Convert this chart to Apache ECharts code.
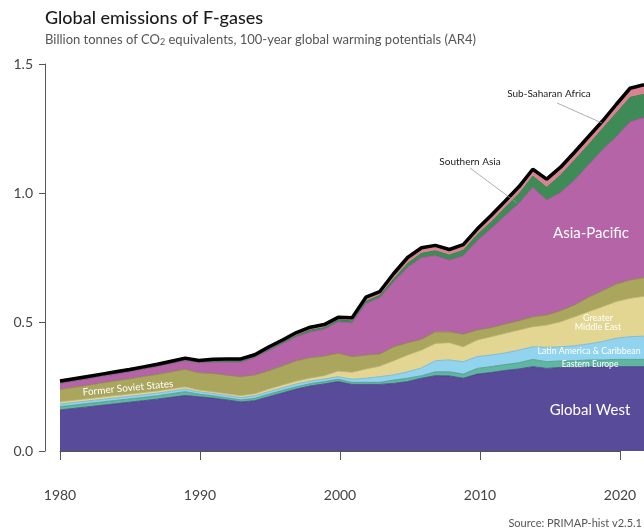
<!DOCTYPE html>
<html>
<head>
<meta charset="utf-8">
<script src="https://cdn.jsdelivr.net/npm/echarts@6/dist/echarts.min.js"></script>
<style>
  html, body { margin: 0; padding: 0; background: #fff; }
  #chart { width: 644px; height: 529px; }
</style>
</head>
<body>
<div id="chart"></div>
<script>
// years on the x axis
var years = ['1980', '1981', '1982', '1983', '1984', '1985', '1986', '1987', '1988', '1989',
  '1990', '1991', '1992', '1993', '1994', '1995', '1996', '1997', '1998', '1999',
  '2000', '2001', '2002', '2003', '2004', '2005', '2006', '2007', '2008', '2009',
  '2010', '2011', '2012', '2013', '2014', '2015', '2016', '2017', '2018', '2019',
  '2020', '2021', '2022'];

// billion tonnes CO2e (stacked bottom -> top)
var globalWest = [0.159, 0.165, 0.171, 0.177, 0.183, 0.189, 0.195, 0.201, 0.208, 0.215,
  0.210, 0.205, 0.198, 0.190, 0.195, 0.210, 0.225, 0.240, 0.252, 0.260,
  0.269, 0.258, 0.258, 0.258, 0.262, 0.269, 0.282, 0.292, 0.291, 0.282,
  0.298, 0.304, 0.312, 0.318, 0.327, 0.320, 0.324, 0.324, 0.326, 0.327,
  0.327, 0.327, 0.327];
var easternEurope = [0.013, 0.013, 0.013, 0.013, 0.013, 0.013, 0.013, 0.013, 0.014, 0.015,
  0.010, 0.009, 0.008, 0.008, 0.009, 0.010, 0.010, 0.009, 0.009, 0.009,
  0.009, 0.008, 0.008, 0.008, 0.013, 0.013, 0.010, 0.015, 0.016, 0.016,
  0.022, 0.023, 0.023, 0.024, 0.028, 0.026, 0.025, 0.026, 0.027, 0.026,
  0.028, 0.028, 0.028];
var latinAmerica = [0.010, 0.010, 0.010, 0.010, 0.010, 0.010, 0.010, 0.010, 0.010, 0.010,
  0.009, 0.009, 0.009, 0.009, 0.010, 0.010, 0.010, 0.011, 0.010, 0.010,
  0.010, 0.012, 0.016, 0.022, 0.020, 0.025, 0.030, 0.043, 0.046, 0.048,
  0.046, 0.045, 0.045, 0.049, 0.049, 0.056, 0.055, 0.058, 0.062, 0.071,
  0.082, 0.088, 0.090];
var middleEast = [0.009, 0.009, 0.009, 0.009, 0.009, 0.009, 0.009, 0.009, 0.009, 0.009,
  0.007, 0.007, 0.007, 0.008, 0.008, 0.010, 0.011, 0.011, 0.012, 0.013,
  0.022, 0.027, 0.036, 0.041, 0.055, 0.065, 0.069, 0.067, 0.067, 0.058,
  0.064, 0.071, 0.076, 0.078, 0.078, 0.086, 0.097, 0.112, 0.125, 0.135,
  0.142, 0.149, 0.155];
var formerSoviet = [0.048, 0.050, 0.052, 0.055, 0.057, 0.059, 0.062, 0.064, 0.066, 0.068,
  0.067, 0.071, 0.072, 0.073, 0.073, 0.071, 0.074, 0.079, 0.079, 0.076,
  0.069, 0.061, 0.054, 0.047, 0.054, 0.048, 0.042, 0.045, 0.042, 0.049,
  0.039, 0.035, 0.036, 0.036, 0.038, 0.039, 0.043, 0.046, 0.056, 0.062,
  0.068, 0.071, 0.072];
var asiaPacific = [0.023, 0.024, 0.025, 0.025, 0.026, 0.027, 0.028, 0.030, 0.032, 0.033,
  0.039, 0.043, 0.050, 0.056, 0.067, 0.078, 0.086, 0.093, 0.100, 0.104,
  0.122, 0.131, 0.200, 0.219, 0.252, 0.292, 0.317, 0.296, 0.278, 0.304,
  0.346, 0.384, 0.420, 0.455, 0.502, 0.446, 0.458, 0.484, 0.513, 0.546,
  0.571, 0.613, 0.621];
var southernAsia = [0.004, 0.004, 0.004, 0.004, 0.004, 0.004, 0.004, 0.004, 0.004, 0.005,
  0.004, 0.006, 0.006, 0.007, 0.006, 0.007, 0.007, 0.008, 0.009, 0.009,
  0.009, 0.010, 0.010, 0.011, 0.014, 0.018, 0.018, 0.020, 0.022, 0.023,
  0.025, 0.028, 0.033, 0.039, 0.046, 0.051, 0.070, 0.080, 0.080, 0.084,
  0.094, 0.097, 0.092];
var subSaharan = [0.005, 0.005, 0.005, 0.005, 0.005, 0.005, 0.005, 0.005, 0.005, 0.005,
  0.005, 0.006, 0.007, 0.006, 0.005, 0.007, 0.007, 0.008, 0.009, 0.009,
  0.008, 0.009, 0.014, 0.012, 0.018, 0.020, 0.020, 0.019, 0.019, 0.020,
  0.020, 0.023, 0.023, 0.025, 0.024, 0.030, 0.028, 0.028, 0.029, 0.027,
  0.031, 0.033, 0.035];

var regions = [
  { name: 'Global West', data: globalWest, fill: '#574b9a', line: '#463b82' },
  { name: 'Eastern Europe', data: easternEurope, fill: '#5fb6a1', line: '#4a9683' },
  { name: 'Latin America & Caribbean', data: latinAmerica, fill: '#92d3ef', line: '#6fb2cf' },
  { name: 'Greater Middle East', data: middleEast, fill: '#e3d692', line: '#b9ad72' },
  { name: 'Former Soviet States', data: formerSoviet, fill: '#aaa65d', line: '#858147' },
  { name: 'Asia-Pacific', data: asiaPacific, fill: '#b565a7', line: '#934e87' },
  { name: 'Southern Asia', data: southernAsia, fill: '#3f8b57', line: '#2f6c43' },
  { name: 'Sub-Saharan Africa', data: subSaharan, fill: '#d8838f', line: '#000' }
];

var FONT = 'Lato, "Noto Sans", sans-serif';

var chart = echarts.init(document.getElementById('chart'));

var series = regions.map(function (r, i) {
  var last = i === regions.length - 1;
  return {
    name: r.name,
    type: 'line',
    stack: 'total',
    xAxisIndex: 0,
    yAxisIndex: 0,
    symbol: 'none',
    silent: true,
    data: r.data,
    lineStyle: { color: r.line, width: last ? 3.5 : 0.8 },
    areaStyle: { color: r.fill, opacity: 1 },
    z: last ? 5 : 2
  };
});

var white = function (text, x, y, size) {
  return {
    type: 'text', x: x, y: y, z: 100,
    style: { text: text, fill: '#fff', font: 'normal ' + size + 'px ' + FONT,
      textAlign: 'center', textVerticalAlign: 'middle' }
  };
};

var option = {
  animation: false,
  grid: [
    { left: 60, top: 64, width: 588, height: 387 },
    { left: 60, top: 64, width: 560, height: 387 }
  ],
  xAxis: [
    { type: 'category', gridIndex: 0, data: years, boundaryGap: false, show: false },
    {
      type: 'value', gridIndex: 1, min: 1980, max: 2020, interval: 10, offset: 23,
      axisLine: { show: true, lineStyle: { color: '#555', width: 1 } },
      axisTick: { show: true, length: 9, lineStyle: { color: '#555' } },
      axisLabel: { color: '#444', fontSize: 14, fontFamily: FONT, margin: 14,
        formatter: function (v) { return String(v); } },
      splitLine: { show: false }
    }
  ],
  yAxis: [
    {
      type: 'value', gridIndex: 0, min: 0, max: 1.5, interval: 0.5, offset: 15,
      axisLine: { show: true, lineStyle: { color: '#555', width: 1 } },
      axisTick: { show: true, length: 6, lineStyle: { color: '#555' } },
      axisLabel: { color: '#444', fontSize: 14, fontFamily: FONT, margin: 12,
        formatter: function (v) { return v.toFixed(1); } },
      splitLine: { show: false }
    },
    { type: 'value', gridIndex: 1, min: 0, max: 1.5, show: false }
  ],
  series: series,
  graphic: [
    {
      type: 'text', x: 45, y: 9,
      style: { text: 'Global emissions of F-gases', fill: '#1a1a1a',
        font: '500 18px ' + FONT }
    },
    {
      type: 'text', x: 45, y: 32,
      style: {
        text: 'Billion tonnes of CO{sub|2} equivalents, 100-year global warming potentials (AR4)',
        fill: '#555', font: 'normal 13px ' + FONT,
        rich: { sub: { fontSize: 9, fontFamily: FONT, fill: '#555', padding: [6, 0, 0, 0] } }
      }
    },
    {
      type: 'text', x: 642, y: 523, z: 100,
      style: { text: 'Source: PRIMAP-hist v2.5.1', fill: '#555', font: 'normal 11px ' + FONT,
        textAlign: 'right', textVerticalAlign: 'middle' }
    },
    white('Global West', 590, 410, 15),
    white('Asia-Pacific', 591, 233, 15),
    white('Eastern Europe', 590, 364, 8.5),
    white('Latin America & Caribbean', 589, 351, 8.8),
    white('Greater', 598, 318, 9),
    white('Middle East', 598, 327, 9),
    {
      type: 'text', x: 128, y: 388, rotation: 0.095, z: 100,
      style: { text: 'Former Soviet States', fill: '#fff', font: 'normal 10px ' + FONT,
        textAlign: 'center', textVerticalAlign: 'middle' }
    },
    {
      type: 'text', x: 470, y: 162, z: 100,
      style: { text: 'Southern Asia', fill: '#222', font: 'normal 10px ' + FONT,
        textAlign: 'center', textVerticalAlign: 'middle' }
    },
    {
      type: 'line', z: 100,
      shape: { x1: 470, y1: 168, x2: 517, y2: 203 },
      style: { stroke: '#999', lineWidth: 0.8 }
    },
    {
      type: 'text', x: 549, y: 94, z: 100,
      style: { text: 'Sub-Saharan Africa', fill: '#222', font: 'normal 10px ' + FONT,
        textAlign: 'center', textVerticalAlign: 'middle' }
    },
    {
      type: 'line', z: 100,
      shape: { x1: 557, y1: 103, x2: 602, y2: 123 },
      style: { stroke: '#999', lineWidth: 0.8 }
    }
  ]
};

chart.setOption(option);
</script>
</body>
</html>
